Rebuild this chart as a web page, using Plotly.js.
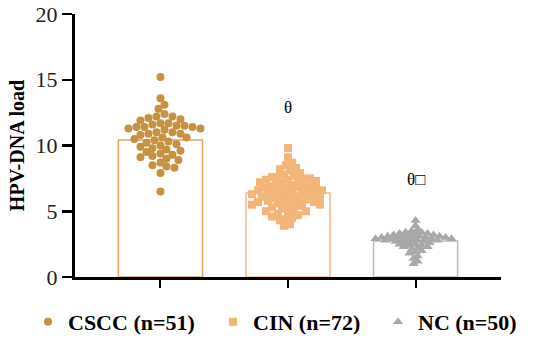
<!DOCTYPE html>
<html>
<head>
<meta charset="utf-8">
<script src="https://cdn.plot.ly/plotly-3.0.1.min.js"></script>
<style>html,body{margin:0;padding:0;background:#fff;}#chart{width:533px;height:338px;}</style>
</head>
<body>
<div id="chart"></div>
<script>
// ---- data ----
const groups = ["CSCC (n=51)", "CIN (n=72)", "NC (n=50)"];
const barMeans = [10.42, 6.39, 2.74];
const cscc = [15.2, 13.6, 13.1, 12.8, 12.4, 12.2, 12.1, 12.2, 11.9, 12.0,
  11.7, 11.6, 11.7, 11.5, 11.4, 11.3, 11.4, 11.3, 11.5, 11.2,
  11.4, 11.0, 10.9, 11.0, 10.8, 10.9, 10.6, 10.5, 10.4, 10.6,
  10.3, 10.1, 10.0, 10.2, 9.9, 9.7, 9.6, 9.8, 9.5, 9.4,
  9.3, 9.1, 9.0, 8.9, 9.2, 8.7, 8.5, 8.4, 8.3, 7.9, 6.5];
const cin = [9.8, 9.1, 8.7, 8.5, 8.3, 8.2, 8.1, 7.9, 7.8, 7.7, 7.6,
  7.5, 7.5, 7.4, 7.4, 7.3, 7.3, 7.2, 7.2, 7.1, 7.0,
  7.0, 6.9, 6.9, 6.8, 6.8, 6.7, 6.7, 6.6, 6.6, 6.5,
  6.5, 6.4, 6.4, 6.3, 6.3, 6.2, 6.2, 6.1, 6.1, 6.0,
  6.0, 5.9, 5.9, 5.8, 5.8, 5.7, 5.7, 5.6, 5.6, 5.5,
  5.5, 5.4, 5.4, 5.3, 5.2, 5.1, 5.0, 5.0, 4.9, 4.8,
  4.7, 4.6, 4.5, 4.4, 4.3, 4.0, 7.6, 6.8, 6.4, 5.9, 3.9];
const nc = [4.3, 3.9, 3.6, 3.5, 3.4, 3.4, 3.3, 3.3, 3.3, 3.2,
  3.2, 3.2, 3.1, 3.1, 3.1, 3.1, 3.0, 3.0, 3.0, 3.0,
  3.0, 2.9, 2.9, 2.9, 2.9, 2.9, 2.8, 2.8, 2.8, 2.8,
  2.7, 2.7, 2.7, 2.6, 2.6, 2.5, 2.5, 2.4, 2.4, 2.3,
  2.3, 2.2, 2.1, 2.0, 1.9, 1.8, 1.6, 1.4, 1.2, 1.0];
const yTicks = [0, 5, 10, 15, 20];
const marks = ["θ", "θ□"];
const markY = [12.9, 7.4];

// ---- layout constants ----
const W = 533, H = 338;
const M = {l: 75, r: 32, t: 14, b: 61};
const xRange = [-0.67, 2.67], yRange = [0, 20];
const pxPerX = (W - M.l - M.r) / (xRange[1] - xRange[0]);
const pxPerY = (H - M.t - M.b) / (yRange[1] - yRange[0]);

// simple beeswarm: spread points sideways so they do not overlap more than allowed
function swarm(vals, cx, dist, step) {
  const order = vals.map((v, i) => i).sort((a, b) => vals[b] - vals[a]);
  const placed = [];
  const xs = new Array(vals.length);
  for (const i of order) {
    const yp = vals[i] * pxPerY;
    let off = 0;
    for (let k = 0; k < 400; k++) {
      const o = (k % 2 === 1 ? 1 : -1) * Math.ceil(k / 2) * step;
      const ok = placed.every(p => (p.x - o) * (p.x - o) + (p.y - yp) * (p.y - yp) >= dist * dist);
      if (ok) { off = o; break; }
    }
    placed.push({x: off, y: yp});
    xs[i] = cx + off / pxPerX;
  }
  return xs;
}

const font = "Liberation Serif, Times New Roman, serif";
const ptColors = ["#C8913F", "#F3B57A", "#A8A8A8"];
const barLines = ["#D9A862", "#F5BC86", "#BDBDBD"];

const traces = [{
  type: "bar", x: [0, 1, 2], y: barMeans, width: 0.66,
  marker: {color: "rgba(255,255,255,0)", line: {color: barLines, width: 1.5}},
  showlegend: false, hoverinfo: "skip"
}];
const sets = [cscc, cin, nc];
const symbols = ["circle", "square", "triangle-up"];
const sizes = [8, 8, 9];
const dists = [7, 5.8, 4.3];
const legendIds = ["legend", "legend2", "legend3"];
const legendX = [28, 213, 378];
sets.forEach((vals, g) => {
  traces.push({
    type: "scatter", mode: "markers", name: groups[g], legend: legendIds[g],
    x: swarm(vals, g, dists[g], 2), y: vals,
    marker: {symbol: symbols[g], size: sizes[g], color: ptColors[g], line: {width: 0}}
  });
});

const legendBase = {
  orientation: "h", xref: "container", yref: "container", y: 16 / H,
  xanchor: "left", yanchor: "middle",
  font: {family: font, size: 22, color: "#000", weight: "bold"}, bgcolor: "rgba(0,0,0,0)"
};

const layout = {
  width: W, height: H, margin: M,
  paper_bgcolor: "#fff", plot_bgcolor: "#fff",
  font: {family: font, color: "#000"},
  xaxis: {range: xRange, tickvals: [0, 1, 2], ticktext: ["", "", ""], ticks: "outside",
    ticklen: 8, tickwidth: 2, tickcolor: "#000", showline: true, linewidth: 3, linecolor: "#000",
    showgrid: false, zeroline: false, fixedrange: true},
  yaxis: {range: yRange, tickvals: yTicks, ticks: "outside", ticklen: 10, tickwidth: 2.5,
    tickcolor: "#000", showline: true, linewidth: 3, linecolor: "#000", showgrid: false,
    zeroline: false, tickfont: {family: font, size: 22, color: "#222"},
    title: {text: "<b>HPV-DNA load</b>", font: {family: font, size: 20, color: "#000"}, standoff: 6}},
  showlegend: true,
  legend: Object.assign({}, legendBase, {x: legendX[0] / W}),
  legend2: Object.assign({}, legendBase, {x: legendX[1] / W}),
  legend3: Object.assign({}, legendBase, {x: legendX[2] / W}),
  annotations: marks.map((t, i) => ({x: i + 1, y: markY[i], xref: "x", yref: "y", text: t,
    showarrow: false, font: {family: font, size: 17, color: "#000"}})),
  bargap: 0
};
Plotly.newPlot("chart", traces, layout, {displayModeBar: false, staticPlot: true});
</script>
</body>
</html>
